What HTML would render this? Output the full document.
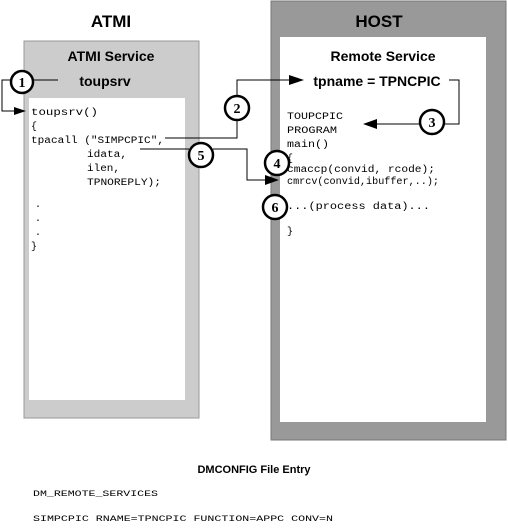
<!DOCTYPE html>
<html><head><style>html,body{margin:0;padding:0;background:#fff}</style></head>
<body>
<svg width="508" height="525" xmlns="http://www.w3.org/2000/svg" font-family="Liberation Sans, sans-serif">
<rect x="0" y="0" width="508" height="525" fill="#fff"/>
<rect x="24" y="41" width="175" height="377" fill="#cccccc" stroke="#999" stroke-width="1"/>
<rect x="29" y="98" width="156" height="302" fill="#fff"/>
<rect x="271" y="1" width="235" height="439" fill="#999999" stroke="#777" stroke-width="1"/>
<rect x="280" y="37" width="206" height="385" fill="#fff"/>

<g font-weight="bold" text-anchor="middle" fill="#000">
<text x="111" y="27" font-size="17">ATMI</text>
<text x="111" y="61" font-size="14">ATMI Service</text>
<text x="105" y="86" font-size="14">toupsrv</text>
<text x="379" y="27" font-size="17">HOST</text>
<text x="383" y="61" font-size="14">Remote Service</text>
<text x="377" y="86" font-size="14">tpname = TPNCPIC</text>
<text x="254" y="473" font-size="11">DMCONFIG File Entry</text>
</g>

<g font-family="Liberation Mono, monospace" font-size="10" fill="#000">
<text x="31" y="115" textLength="67" lengthAdjust="spacingAndGlyphs">toupsrv()</text>
<text x="31" y="129">{</text>
<text x="31" y="143" textLength="133" lengthAdjust="spacingAndGlyphs">tpacall ("SIMPCPIC",</text>
<text x="87" y="157" textLength="40" lengthAdjust="spacingAndGlyphs">idata,</text>
<text x="87" y="171" textLength="33" lengthAdjust="spacingAndGlyphs">ilen,</text>
<text x="87" y="185" textLength="74" lengthAdjust="spacingAndGlyphs">TPNOREPLY);</text>
<text x="35" y="207">.</text>
<text x="35" y="221">.</text>
<text x="35" y="235">.</text>
<text x="31" y="249">}</text>
<text x="287" y="119" textLength="56" lengthAdjust="spacingAndGlyphs">TOUPCPIC</text>
<text x="287" y="133" textLength="50" lengthAdjust="spacingAndGlyphs">PROGRAM</text>
<text x="287" y="147" textLength="42" lengthAdjust="spacingAndGlyphs">main()</text>
<text x="287" y="161">{</text>
<text x="287" y="172" textLength="148" lengthAdjust="spacingAndGlyphs">cmaccp(convid, rcode);</text>
<text x="287" y="184" textLength="152" lengthAdjust="spacingAndGlyphs">cmrcv(convid,ibuffer,..);</text>
<text x="287" y="209" textLength="143" lengthAdjust="spacingAndGlyphs">...(process data)...</text>
<text x="287" y="234">}</text>
<text x="33" y="496" font-size="8.5" textLength="125" lengthAdjust="spacingAndGlyphs">DM_REMOTE_SERVICES</text>
<text x="33" y="521" font-size="8.5" textLength="300" lengthAdjust="spacingAndGlyphs">SIMPCPIC RNAME=TPNCPIC FUNCTION=APPC CONV=N</text>
</g>

<g stroke="#000" stroke-width="1" fill="none">
<polyline points="11,80 2,80 2,111 18,111"/>
<line x1="33" y1="80" x2="58" y2="80"/>
<polyline points="165,138 237,138 237,121"/>
<polyline points="237,95 237,80 292,80"/>
<line x1="140" y1="149" x2="189" y2="149"/>
<polyline points="213,149 247,149 247,180 268,180"/>
<polyline points="449,80 459,80 459,124 444,124"/>
<line x1="420" y1="124" x2="374" y2="124"/>
</g>
<g fill="#000">
<polygon points="26,111 14,107 14,115"/>
<polygon points="304,80 289,75 289,85"/>
<polygon points="279,180 265,175 265,185"/>
<polygon points="363,124 377,119 377,129"/>
</g>
<g stroke="#000" stroke-width="2.5" fill="#fff">
<circle cx="22" cy="82" r="11"/>
<circle cx="237" cy="108" r="12"/>
<circle cx="201" cy="155" r="12"/>
<circle cx="432" cy="122" r="12"/>
<circle cx="277" cy="163" r="12"/>
<circle cx="275" cy="207" r="12"/>
</g>
<g font-family="Liberation Serif, serif" font-weight="bold" font-size="14" text-anchor="middle" fill="#000">
<text x="22" y="87">1</text>
<text x="237" y="113">2</text>
<text x="201" y="160">5</text>
<text x="432" y="127">3</text>
<text x="277" y="168">4</text>
<text x="275" y="212">6</text>
</g>
</svg>
</body></html>
